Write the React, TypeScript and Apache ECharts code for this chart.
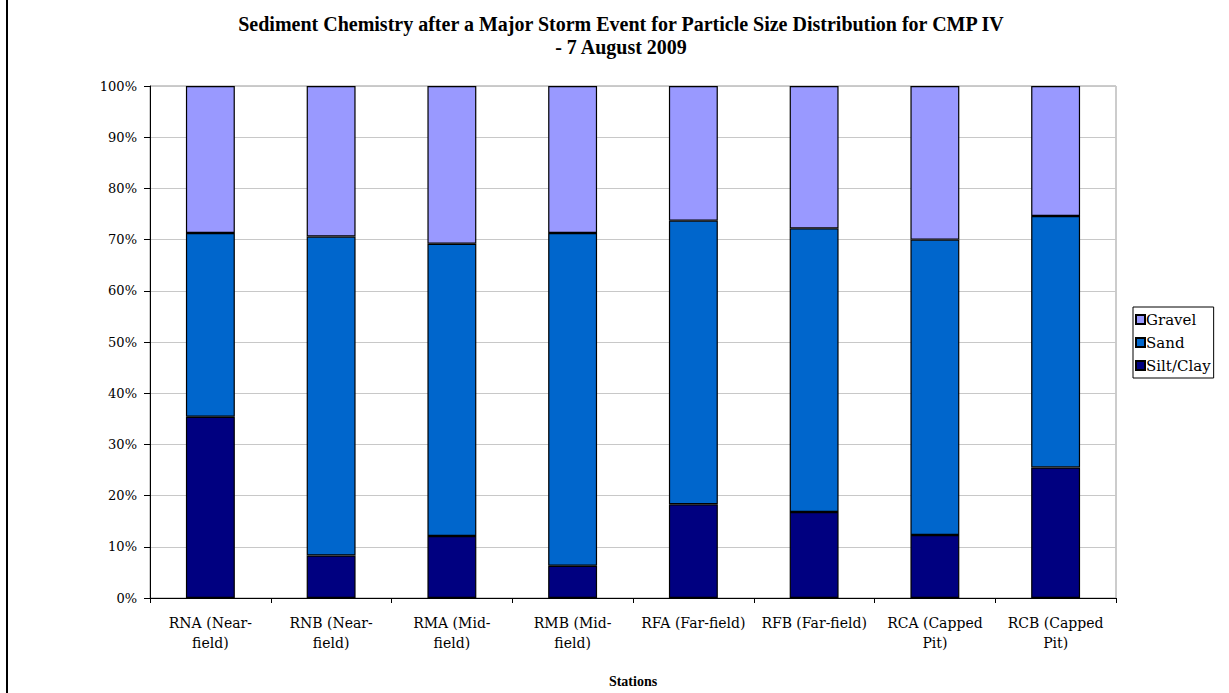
import React, { useEffect, useRef } from "react";
import * as echarts from "echarts";

const categories = [
  "RNA (Near-\nfield)",
  "RNB (Near-\nfield)",
  "RMA (Mid-\nfield)",
  "RMB (Mid-\nfield)",
  "RFA (Far-field)",
  "RFB (Far-field)",
  "RCA (Capped\nPit)",
  "RCB (Capped\nPit)",
];
const siltClay = [35.4, 8.3, 12.1, 6.3, 18.3, 16.8, 12.3, 25.5];
const sand = [35.9, 62.3, 57.1, 65.0, 55.4, 55.4, 57.7, 49.1];
const gravel = [28.7, 29.4, 30.8, 28.7, 26.3, 27.8, 30.0, 25.4];
const yTicks = [0, 10, 20, 30, 40, 50, 60, 70, 80, 90, 100];

const TFONT = "'Liberation Serif', 'DejaVu Serif', serif";
const FONT = "'DejaVu Serif', 'Liberation Serif', serif";

export default function App() {
  const ref = useRef<HTMLDivElement>(null);
  useEffect(() => {
    document.body.style.margin = "0";
    if (!ref.current) return;
    const chart = echarts.init(ref.current, undefined, { renderer: "svg" });
    const border = { borderColor: "#000", borderWidth: 1.2 };
    chart.setOption({
      animation: false,
      backgroundColor: "#fff",
      title: {
        text:
          "Sediment Chemistry after a Major Storm Event for Particle Size Distribution for CMP IV\n- 7 August 2009",
        left: 616,
        top: 7,
        textAlign: "center",
        textStyle: {
          fontFamily: TFONT,
          fontWeight: "bold",
          fontSize: 20,
          color: "#000",
          lineHeight: 23,
          align: "center",
        },
      },
      legend: {
        orient: "vertical",
        left: 1133,
        top: 307,
        data: ["Gravel", "Sand", "Silt/Clay"],
        icon: "rect",
        itemWidth: 9,
        itemHeight: 9,
        itemGap: 8,
        padding: [5, 3, 5, 2],
        borderColor: "#000",
        borderWidth: 1,
        textStyle: { fontFamily: FONT, fontSize: 15, color: "#000", padding: [0, 0, 0, -4] },
      },
      grid: {
        left: 150,
        right: 113,
        top: 86,
        bottom: 93,
        show: true,
        borderColor: "#999",
        borderWidth: 1,
      },
      xAxis: {
        type: "category",
        data: categories,
        name: "Stations",
        nameLocation: "middle",
        nameGap: 76,
        nameTextStyle: { fontFamily: TFONT, fontWeight: "bold", fontSize: 14, color: "#000" },
        axisLine: { lineStyle: { color: "#000", width: 1 } },
        axisTick: { show: true, length: 5, lineStyle: { color: "#000" } },
        axisLabel: {
          fontFamily: FONT,
          fontSize: 14,
          color: "#000",
          lineHeight: 20,
          margin: 15,
          interval: 0,
        },
      },
      yAxis: {
        type: "value",
        min: 0,
        max: 100,
        interval: 10,
        axisLine: { show: true, lineStyle: { color: "#000", width: 1 } },
        axisTick: { show: true, length: 6, lineStyle: { color: "#000" } },
        axisLabel: {
          fontFamily: FONT,
          fontSize: 13,
          color: "#000",
          margin: 13,
          formatter: (v: number) => (yTicks.includes(v) ? v + "%" : ""),
        },
        splitLine: { show: true, lineStyle: { color: "#c8c8c8", width: 1 } },
      },
      series: [
        {
          name: "Silt/Clay",
          type: "bar",
          stack: "total",
          data: siltClay,
          barWidth: "40.5%",
          itemStyle: { color: "#000080", ...border },
        },
        {
          name: "Sand",
          type: "bar",
          stack: "total",
          data: sand,
          itemStyle: { color: "#0066cc", ...border },
        },
        {
          name: "Gravel",
          type: "bar",
          stack: "total",
          data: gravel,
          itemStyle: { color: "#9999ff", ...border },
        },
      ],
      graphic: [
        {
          type: "line",
          shape: { x1: 7, y1: 0, x2: 7, y2: 693 },
          style: { stroke: "#000", lineWidth: 2 },
        },
      ],
    });
    return () => chart.dispose();
  }, []);
  return <div ref={ref} style={{ width: 1229, height: 693 }} />;
}
